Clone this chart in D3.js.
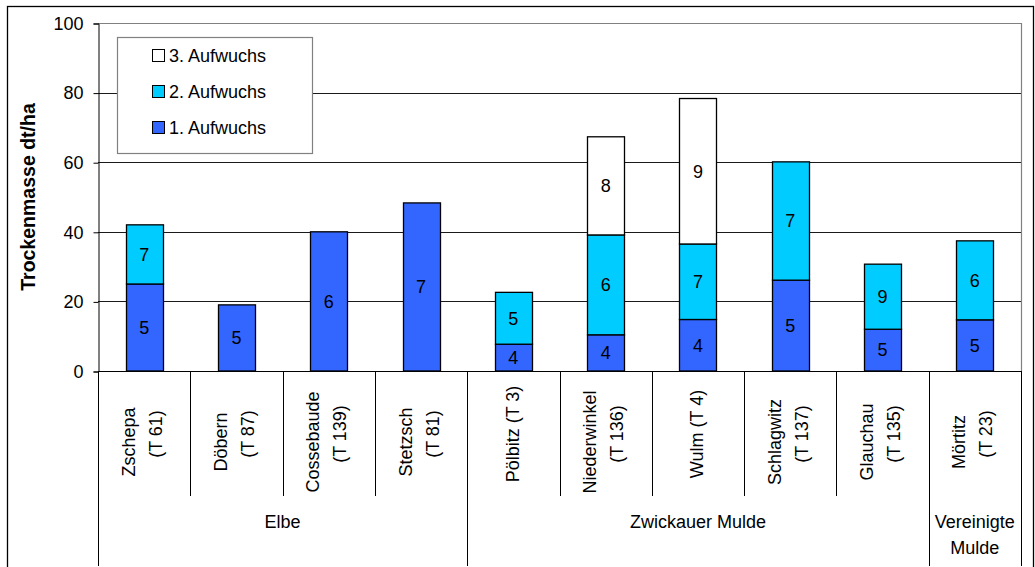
<!DOCTYPE html>
<html>
<head>
<meta charset="utf-8">
<script src="https://cdn.jsdelivr.net/npm/d3@7"></script>
<style>
  html, body { margin: 0; padding: 0; background: #fff; }
  svg { display: block; font-family: Arial, "Liberation Sans", sans-serif; }
</style>
</head>
<body>
<svg id="chart" width="1035" height="567"></svg>
<script>
// Sites (category labels, one entry per wrapped line)
const siteLabels = [
  ["Zschepa", "(T 61)"],
  ["Döbern", "(T 87)"],
  ["Cossebaude", "(T 139)"],
  ["Stetzsch", "(T 81)"],
  ["Pölbitz (T 3)"],
  ["Niederwinkel", "(T 136)"],
  ["Wulm (T 4)"],
  ["Schlagwitz", "(T 137)"],
  ["Glauchau", "(T 135)"],
  ["Mörtitz", "(T 23)"]
];

// River groups and how many sites each spans
const groupNames = [["Elbe"], ["Zwickauer Mulde"], ["Vereinigte", "Mulde"]];
const groupSizes = [4, 5, 1];

// Dry matter yield per cut (dt/ha)
const cut1 = [25.0, 19.0, 40.0, 48.3, 7.7, 10.4, 14.8, 26.1, 12.0, 14.7];
const cut2 = [17.0, null, null, null, 14.9, 28.7, 21.7, 34.0, 18.7, 22.7];
const cut3 = [null, null, null, null, null, 28.2, 41.8, null, null, null];

// Numbers printed inside the bar segments
const cut1Labels = [5, 5, 6, 7, 4, 4, 4, 5, 5, 5];
const cut2Labels = [7, null, null, null, 5, 6, 7, 7, 9, 6];
const cut3Labels = [null, null, null, null, null, 8, 9, null, null, null];

const seriesNames = ["1. Aufwuchs", "2. Aufwuchs", "3. Aufwuchs"];
const seriesColors = ["#3366FF", "#00CCFF", "#FFFFFF"];
const yTicks = [0, 20, 40, 60, 80, 100];

const svg = d3.select("#chart");
const FONT = 18;

const plot = { left: 98, right: 1021, top: 23, bottom: 371 };

const x = d3.scaleBand()
  .domain(d3.range(siteLabels.length))
  .range([plot.left, plot.right])
  .paddingInner(0).paddingOuter(0);

const y = d3.scaleLinear().domain([0, 100]).range([plot.bottom, plot.top]);

const barW = x.bandwidth() * 0.40;

// outer chart frame
svg.append("rect")
  .attr("x", 7.5).attr("y", 6.5)
  .attr("width", 1026).attr("height", 600)
  .attr("fill", "none").attr("stroke", "#000").attr("stroke-width", 1.3);

// gridlines
svg.append("g")
  .selectAll("line")
  .data(yTicks.filter(d => d > 0 && d < 100))
  .join("line")
  .attr("x1", plot.left).attr("x2", plot.right)
  .attr("y1", d => Math.round(y(d)) + 0.5).attr("y2", d => Math.round(y(d)) + 0.5)
  .attr("stroke", "#1a1a1a").attr("stroke-width", 1);

// plot area border (top and right)
svg.append("path")
  .attr("d", `M${plot.left},${Math.round(y(100)) + 0.5}H${plot.right + 0.5}V${plot.bottom}`)
  .attr("fill", "none").attr("stroke", "#808080").attr("stroke-width", 1.2);

// y axis
const yAxis = d3.axisLeft(y).tickValues(yTicks).tickSize(5).tickPadding(10);
const yg = svg.append("g")
  .attr("transform", `translate(${plot.left + 0.5},0.5)`)
  .call(yAxis);
yg.select(".domain").attr("stroke", "#000");
yg.selectAll(".tick line").attr("stroke", "#000");
yg.selectAll(".tick text")
  .attr("font-size", FONT)
  .attr("font-family", "Arial, 'Liberation Sans', sans-serif")
  .attr("fill", "#000");

// y axis title
svg.append("text")
  .attr("transform", `translate(35,${(plot.top + plot.bottom) / 2}) rotate(-90)`)
  .attr("text-anchor", "middle")
  .attr("font-size", 19.5)
  .attr("font-weight", "bold")
  .text("Trockenmasse dt/ha");

// stacked segments
const rows = siteLabels.map((_, i) => ({
  i,
  vals: [cut1[i], cut2[i], cut3[i]],
  labs: [cut1Labels[i], cut2Labels[i], cut3Labels[i]]
}));

const segs = [];
rows.forEach(r => {
  let base = 0;
  r.vals.forEach((v, k) => {
    if (v == null) return;
    segs.push({ i: r.i, k, y0: base, y1: base + v, label: r.labs[k] });
    base += v;
  });
});

const cx = i => x(i) + x.bandwidth() / 2;

svg.append("g")
  .selectAll("rect")
  .data(segs)
  .join("rect")
  .attr("x", d => Math.round(cx(d.i) - barW / 2) + 0.5)
  .attr("width", Math.round(barW))
  .attr("y", d => y(d.y1))
  .attr("height", d => y(d.y0) - y(d.y1))
  .attr("fill", d => seriesColors[d.k])
  .attr("stroke", "#000")
  .attr("stroke-width", 1.3);

svg.append("g")
  .selectAll("text")
  .data(segs.filter(d => d.label != null))
  .join("text")
  .attr("x", d => cx(d.i))
  .attr("y", d => y((d.y0 + d.y1) / 2))
  .attr("dy", "0.35em")
  .attr("text-anchor", "middle")
  .attr("font-size", FONT)
  .text(d => d.label);

// category axis baseline
svg.append("line")
  .attr("x1", plot.left).attr("x2", plot.right + 0.5)
  .attr("y1", plot.bottom + 0.5).attr("y2", plot.bottom + 0.5)
  .attr("stroke", "#000");

// separators between sites
const siteSepBottom = 496;
const groupSepBottom = 566;
const groupBounds = [0];
groupSizes.forEach(n => groupBounds.push(groupBounds[groupBounds.length - 1] + n));
const bandEdge = k => k >= siteLabels.length ? plot.right : x(k);

svg.append("g")
  .selectAll("line")
  .data(d3.range(siteLabels.length + 1))
  .join("line")
  .attr("x1", k => Math.round(bandEdge(k)) + 0.5)
  .attr("x2", k => Math.round(bandEdge(k)) + 0.5)
  .attr("y1", plot.bottom)
  .attr("y2", k => groupBounds.includes(k) ? groupSepBottom : siteSepBottom)
  .attr("stroke", "#000");

// site names, rotated
const siteG = svg.append("g").attr("font-size", FONT);
siteLabels.forEach((lines, i) => {
  const c = cx(i);
  if (lines.length === 1) {
    siteG.append("text")
      .attr("transform", `translate(${c + 5.5},434) rotate(-90)`)
      .attr("text-anchor", "middle")
      .text(lines[0]);
  } else {
    siteG.append("text")
      .attr("transform", `translate(${c - 9.5},442) rotate(-90)`)
      .attr("text-anchor", "middle")
      .text(lines[0]);
    siteG.append("text")
      .attr("transform", `translate(${c + 17.5},434) rotate(-90)`)
      .attr("text-anchor", "middle")
      .text(lines[1]);
  }
});

// river group names
const groupG = svg.append("g").attr("font-size", FONT);
groupNames.forEach((lines, g) => {
  const gx = (bandEdge(groupBounds[g]) + bandEdge(groupBounds[g + 1])) / 2;
  lines.forEach((t, j) => {
    groupG.append("text")
      .attr("x", gx)
      .attr("y", 528 + j * 26)
      .attr("text-anchor", "middle")
      .text(t);
  });
});

// legend
const legend = svg.append("g");
legend.append("rect")
  .attr("x", 117.5).attr("y", 37.5)
  .attr("width", 195).attr("height", 116)
  .attr("fill", "#fff").attr("stroke", "#808080").attr("stroke-width", 1.2);

const legendOrder = [2, 1, 0];
legendOrder.forEach((k, j) => {
  const base = 62 + j * 36;
  legend.append("rect")
    .attr("x", 152.5).attr("y", base - 12.5)
    .attr("width", 12).attr("height", 12)
    .attr("fill", seriesColors[k]).attr("stroke", "#000").attr("stroke-width", 1);
  legend.append("text")
    .attr("x", 169).attr("y", base)
    .attr("font-size", FONT)
    .text(seriesNames[k]);
});
</script>
</body>
</html>
